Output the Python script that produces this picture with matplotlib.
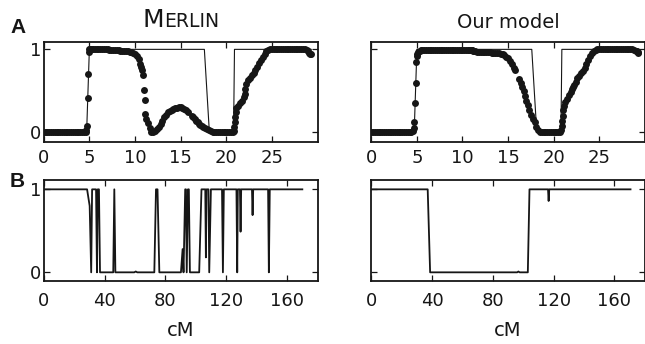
import matplotlib
matplotlib.use('Agg')
import matplotlib.pyplot as plt

# Panel A: marker positions (cM) and posterior probabilities
pos = [0.0, 0.2, 0.4, 0.6, 0.8, 1.0, 1.2, 1.4, 1.6, 1.8, 2.0, 2.2, 2.4, 2.6, 2.8, 3.0, 3.2, 3.4, 3.6, 3.8, 4.0, 4.2, 4.4,
       4.6, 4.66, 4.72, 4.8, 4.88, 4.94, 5.0, 5.06, 5.15, 5.3, 5.45,
       5.6, 5.8, 6.0, 6.2, 6.4, 6.6, 6.8, 7.0, 7.2, 7.4, 7.6, 7.8, 8.0, 8.2, 8.4, 8.6, 8.8, 9.0, 9.2, 9.4, 9.6, 9.8, 10.0, 10.2, 10.4, 10.6,
       10.7, 10.8, 10.9, 11.0, 11.05, 11.15, 11.25, 11.4, 11.6, 11.8, 12.0,
       12.2, 12.4, 12.6, 12.8, 13.0, 13.2, 13.4, 13.6, 13.8, 14.0, 14.2, 14.4, 14.6, 14.8, 15.0, 15.2, 15.4, 15.6, 15.8,
       16.25, 16.4, 16.55, 16.7, 16.85, 17.0, 17.15, 17.3, 17.5, 17.7, 17.9, 18.1, 18.3, 18.5, 18.7,
       18.9, 19.1, 19.3, 19.5, 19.7, 19.9, 20.1, 20.3, 20.5, 20.7,
       20.8, 20.9, 20.95, 21.0, 21.05, 21.1, 21.3, 21.5, 21.7, 21.9, 22.0, 22.1, 22.2, 22.4, 22.6, 22.8, 23.0, 23.2, 23.4, 23.6, 23.8, 24.0, 24.2, 24.4, 24.6,
       24.8, 25.0, 25.2, 25.4, 25.6, 25.8, 26.0, 26.2, 26.4, 26.6, 26.8, 27.0, 27.2, 27.4, 27.6, 27.8, 28.0, 28.2, 28.4, 28.6,
       28.8, 29.0, 29.1, 29.2, 29.3]

merlin_post = [0.0, 0.0, 0.0, 0.0, 0.0, 0.0, 0.0, 0.0, 0.0, 0.0, 0.0, 0.0, 0.0, 0.0, 0.0, 0.0, 0.0, 0.0, 0.0, 0.0, 0.0, 0.0, 0.0,
               0.01, 0.03, 0.08, 0.41, 0.70, 0.97, 1.0, 1.0, 1.0, 1.0, 1.0,
               1.0, 1.0, 1.0, 1.0, 1.0, 1.0, 1.0, 1.0, 0.995, 0.995, 0.99, 0.99, 0.99, 0.99, 0.985, 0.985, 0.98, 0.98, 0.975, 0.97, 0.965, 0.96, 0.95, 0.92, 0.88, 0.82,
               0.79, 0.75, 0.69, 0.51, 0.39, 0.22, 0.16, 0.11, 0.05, 0.01, 0.0,
               0.02, 0.04, 0.07, 0.10, 0.14, 0.18, 0.21, 0.24, 0.26, 0.27, 0.28, 0.29, 0.295, 0.30, 0.30, 0.29, 0.28, 0.27, 0.25,
               0.20, 0.18, 0.16, 0.14, 0.12, 0.10, 0.09, 0.08, 0.06, 0.05, 0.04, 0.03, 0.02, 0.01, 0.0,
               0.0, 0.0, 0.0, 0.0, 0.0, 0.0, 0.0, 0.0, 0.0, 0.0,
               0.02, 0.07, 0.13, 0.19, 0.25, 0.29, 0.32, 0.35, 0.38, 0.42, 0.46, 0.52, 0.58, 0.63, 0.66, 0.69, 0.72, 0.75, 0.79, 0.83, 0.87, 0.91, 0.95, 0.98, 0.99,
               1.0, 1.0, 1.0, 1.0, 1.0, 1.0, 1.0, 1.0, 1.0, 1.0, 1.0, 1.0, 1.0, 1.0, 1.0, 1.0, 1.0, 1.0, 1.0, 1.0,
               0.99, 0.98, 0.96, 0.95, 0.94]

model_post = [0.0, 0.0, 0.0, 0.0, 0.0, 0.0, 0.0, 0.0, 0.0, 0.0, 0.0, 0.0, 0.0, 0.0, 0.0, 0.0, 0.0, 0.0, 0.0, 0.0, 0.0, 0.0, 0.0,
              0.02, 0.05, 0.12, 0.35, 0.59, 0.85, 0.92, 0.95, 0.97, 0.98, 0.99,
              0.99, 0.99, 0.99, 0.99, 0.99, 0.99, 0.99, 0.99, 0.99, 0.99, 0.99, 0.99, 0.99, 0.99, 0.99, 0.99, 0.99, 0.99, 0.99, 0.99, 0.99, 0.99, 0.99, 0.99, 0.99, 0.99,
              0.99, 0.99, 0.99, 0.99, 0.99, 0.985, 0.98, 0.975, 0.97, 0.965, 0.965,
              0.965, 0.965, 0.965, 0.965, 0.965, 0.96, 0.96, 0.96, 0.96, 0.955, 0.95, 0.945, 0.93, 0.91, 0.89, 0.86, 0.82, 0.78, 0.75,
              0.64, 0.59, 0.55, 0.50, 0.44, 0.38, 0.33, 0.27, 0.21, 0.16, 0.12, 0.07, 0.03, 0.01, 0.0,
              0.0, 0.0, 0.0, 0.0, 0.0, 0.0, 0.0, 0.0, 0.0, 0.0,
              0.03, 0.08, 0.14, 0.20, 0.27, 0.32, 0.36, 0.40, 0.45, 0.49, 0.52, 0.55, 0.57, 0.61, 0.65, 0.68, 0.71, 0.74, 0.77, 0.82, 0.87, 0.92, 0.96, 0.985, 0.99,
              1.0, 1.0, 1.0, 1.0, 1.0, 1.0, 1.0, 1.0, 1.0, 1.0, 1.0, 1.0, 1.0, 1.0, 1.0, 1.0, 1.0, 1.0, 1.0, 1.0,
              0.99, 0.985, 0.975, 0.965, 0.96]

# true ancestry in panel A
true_cm = [0.0, 4.7, 5.0, 17.6, 18.15, 20.8, 20.9, 29.3]
true_anc = [0, 0, 1, 1, 0, 0, 1, 1]

# Panel B: inferred ancestry along the long chromosome
merlin_cm = [0, 28.5, 30.2, 31.2, 31.8, 34.4, 35.0, 35.5, 36.3, 37.0, 45.7, 46.4, 47.1, 59.5, 60.5, 61.5,
             72.7, 73.8, 74.8, 76.0, 90.2, 91.3, 91.9, 93.0, 93.5, 94.0, 94.8, 95.4, 96.1, 102.2, 103.7,
             106.2, 106.6, 107.0, 108.3, 108.8, 109.9, 117.2, 117.8, 118.4, 126.7, 127.2, 127.6,
             129.0, 129.4, 129.8, 136.9, 137.3, 137.7, 147.5, 148.0, 148.6, 170.0]
merlin_call = [1, 1, 0.8, 0, 1, 1, 0, 1, 1, 0, 0, 1, 0, 0, 0.01, 0,
               0, 1, 1, 0, 0, 0.28, 0, 1, 1, 0, 1, 1, 0, 0, 1,
               1, 0.18, 1, 1, 0, 1, 1, 0, 1, 1, 0, 1,
               1, 0.49, 1, 1, 0.69, 1, 1, 0, 1, 1]

model_cm = [0, 37.1, 38.7, 96.0, 96.8, 97.6, 103.0, 104.1, 116.3, 116.7, 117.1, 170.6]
model_call = [1, 1, 0, 0, 0.01, 0, 0, 1, 1, 0.86, 1, 1]

INK = '#161616'
plt.rcParams['font.family'] = 'DejaVu Sans'


def style_axes(ax, xlim, xticks, ylim, left_labels, xpad):
    ax.set_xlim(xlim)
    ax.set_ylim(ylim)
    ax.set_xticks(xticks)
    ax.set_yticks([0, 1])
    ax.tick_params(axis='both', direction='in', top=True, right=True,
                   length=4, width=0.9, colors=INK, labelsize=13)
    ax.tick_params(axis='x', pad=xpad)
    ax.tick_params(axis='y', pad=2, labelleft=left_labels)
    for sp in ax.spines.values():
        sp.set_linewidth(1.3)
        sp.set_color(INK)


fig = plt.figure(figsize=(6.45, 3.44), dpi=100)
ax1 = fig.add_axes([0.0678, 0.588, 0.4245, 0.2907])
ax2 = fig.add_axes([0.5757, 0.588, 0.4240, 0.2907])
ax3 = fig.add_axes([0.0678, 0.183, 0.4245, 0.2936])
ax4 = fig.add_axes([0.5757, 0.183, 0.4240, 0.2936])

for ax, post in [(ax1, merlin_post), (ax2, model_post)]:
    ax.plot(true_cm, true_anc, color=INK, lw=0.8)
    ax.plot(pos, post, 'o', color=INK, ms=5, mew=0)
    style_axes(ax, (0, 30), [0, 5, 10, 15, 20, 25], (-0.113, 1.092), ax is ax1, 5)

for ax, cm, call in [(ax3, merlin_cm, merlin_call), (ax4, model_cm, model_call)]:
    ax.plot(cm, call, color=INK, lw=1.3)
    style_axes(ax, (0, 180), [0, 40, 80, 120, 160], (-0.105, 1.112), ax is ax3, 8)
    ax.set_xlabel('cM', fontsize=14, color=INK)
    ax.xaxis.set_label_coords(0.5, -0.545)
    ax.xaxis.label.set_va('baseline')

# column titles
ax2.text(0.5, 1.134, 'Our model', transform=ax2.transAxes, ha='center', va='baseline',
         fontsize=14, color=INK)
t_m = ax1.text(0.5, 1.144, 'M', transform=ax1.transAxes, ha='right', va='baseline',
               fontsize=18, color=INK)
t_rest = ax1.text(0.5, 1.144, 'ERLIN', transform=ax1.transAxes, ha='left', va='baseline',
                  fontsize=13.5, color=INK)
fig.canvas.draw()
r = fig.canvas.get_renderer()
w_m = t_m.get_window_extent(r).width
w_rest = t_rest.get_window_extent(r).width
ax_w = ax1.get_window_extent(r).width
split = 0.5 + (w_m - w_rest) / 2 / ax_w
t_m.set_x(split)
t_rest.set_x(split)

# panel letters
fig.text(0.0155, 0.904, 'A', fontsize=15, fontweight='bold', color=INK,
         family='Liberation Sans', va='baseline')
fig.text(0.0155, 0.457, 'B', fontsize=15, fontweight='bold', color=INK,
         family='Liberation Sans', va='baseline')

fig.savefig('out.png', dpi=100)
